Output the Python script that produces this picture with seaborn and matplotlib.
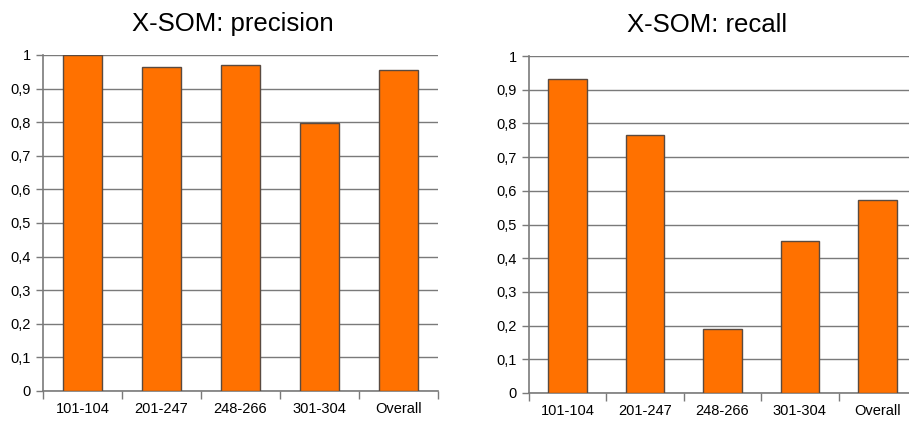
import matplotlib
matplotlib.use("Agg")
import matplotlib.pyplot as plt
import seaborn as sns
import pandas as pd
import numpy as np

categories = ["101-104", "201-247", "248-266", "301-304", "Overall"]
precision = [1.0, 0.965, 0.969, 0.798, 0.954]
recall = [0.932, 0.766, 0.19, 0.451, 0.573]
ytick_values = [round(0.1 * i, 1) for i in range(11)]
ytick_labels = ["0" if v == 0 else ("1" if v == 1 else f"{v:.1f}".replace(".", ",")) for v in ytick_values]

sns.set_style("white")
plt.rcParams["font.family"] = ["Liberation Sans", "DejaVu Sans"]

fig = plt.figure(figsize=(9.09, 4.24), dpi=100)
W, H = 909, 424
ax1 = fig.add_axes([43 / W, 1 - 391 / H, (438 - 43) / W, (391 - 55) / H])
ax2 = fig.add_axes([529 / W, 1 - 393 / H, (916 - 529) / W, (393 - 56) / H])

bar_color = "#FF7100"
edge_color = "#5a4a40"
grid_color = "#7a7a7a"

for ax, values, title in [(ax1, precision, "X-SOM: precision"), (ax2, recall, "X-SOM: recall")]:
    df = pd.DataFrame({"group": categories, "value": values})
    sns.barplot(data=df, x="group", y="value", ax=ax, color=bar_color,
                edgecolor=edge_color, linewidth=1.0, width=0.5, saturation=1, zorder=3)
    ax.set_xlim(-0.5, len(categories) - 0.5)
    ax.set_ylim(0, 1)
    ax.set_yticks(ytick_values)
    ax.set_yticklabels(ytick_labels, fontsize=10.5, color="black")
    ax.yaxis.grid(True, color=grid_color, linewidth=1.0, zorder=0)
    ax.set_axisbelow(True)
    ax.set_xlabel("")
    ax.set_ylabel("")
    ax.set_xticks(range(len(categories)))
    ax.set_xticklabels(categories, fontsize=10.5, color="black")
    ax.set_xticks(np.arange(-0.5, len(categories)), minor=True)
    ax.tick_params(axis="x", which="major", bottom=True, length=0, pad=8)
    ax.tick_params(axis="x", which="minor", bottom=True, length=6, width=1,
                   color=grid_color, direction="out")
    ax.tick_params(axis="y", left=True, length=5, width=1, color=grid_color,
                   direction="out", pad=4)
    for side in ["top", "right"]:
        ax.spines[side].set_visible(False)
    for side in ["left", "bottom"]:
        ax.spines[side].set_color(grid_color)
        ax.spines[side].set_linewidth(1.2)
    ax.set_title(title, fontsize=18.5, pad=17, color="black",
                 x=0.48 if ax is ax1 else 0.46)

fig.savefig("out.png", dpi=100)
